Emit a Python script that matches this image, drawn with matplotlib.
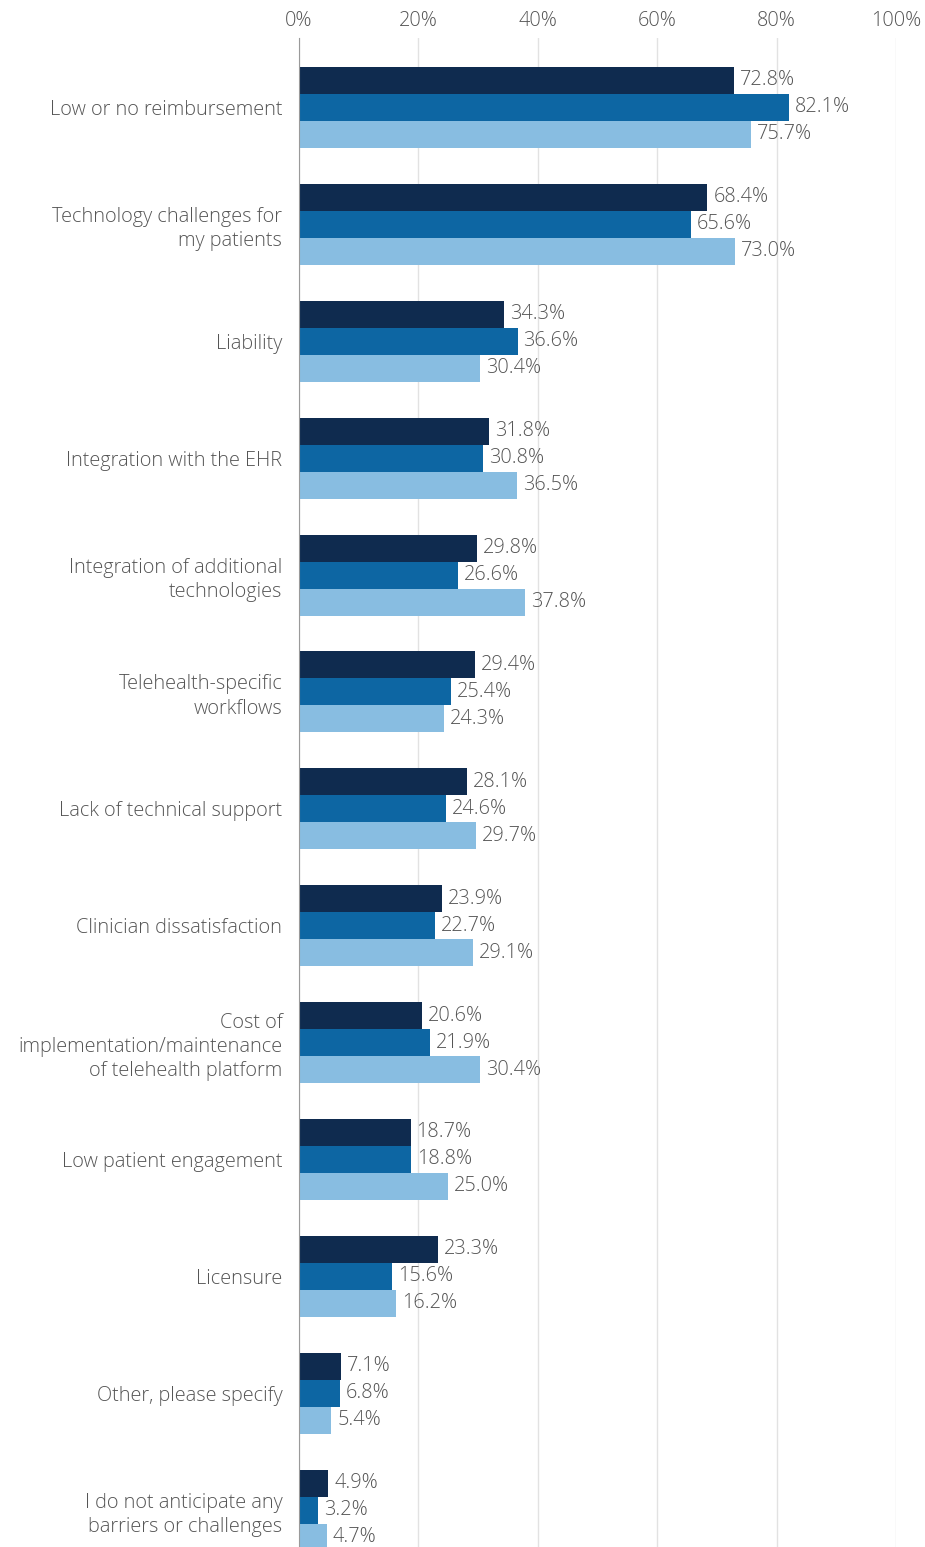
import numpy as np
import matplotlib.pyplot as plt

plt.rcParams['font.family'] = ['Open Sans', 'DejaVu Sans']

categories = [
    "Low or no reimbursement",
    "Technology challenges for\nmy patients",
    "Liability",
    "Integration with the EHR",
    "Integration of additional\ntechnologies",
    "Telehealth-specific\nworkflows",
    "Lack of technical support",
    "Clinician dissatisfaction",
    "Cost of\nimplementation/maintenance\nof telehealth platform",
    "Low patient engagement",
    "Licensure",
    "Other, please specify",
    "I do not anticipate any\nbarriers or challenges",
]
series_a = [72.8, 68.4, 34.3, 31.8, 29.8, 29.4, 28.1, 23.9, 20.6, 18.7, 23.3, 7.1, 4.9]
series_b = [82.1, 65.6, 36.6, 30.8, 26.6, 25.4, 24.6, 22.7, 21.9, 18.8, 15.6, 6.8, 3.2]
series_c = [75.7, 73.0, 30.4, 36.5, 37.8, 24.3, 29.7, 29.1, 30.4, 25.0, 16.2, 5.4, 4.7]
colors = ["#0f2b4f", "#0d66a3", "#88bde1"]
text_color = "#555555"
FS = 14.3
FW = "light"

fig = plt.figure(figsize=(9.25, 15.47), dpi=100)
ax = fig.add_axes([299 / 925, 0, (896 - 299) / 925, 1 - 38 / 1547])

y = np.arange(len(categories))
h = 0.231
for k, (vals, col) in enumerate(zip([series_a, series_b, series_c], colors)):
    pos = y + (k - 1) * h
    ax.barh(pos, vals, height=h, color=col, zorder=3)
    for p, v in zip(pos, vals):
        ax.text(v + 1.0, p, f"{v:.1f}%", va="center", ha="left",
                fontsize=FS, fontweight=FW, color=text_color, zorder=4)

ax.set_xlim(0, 100)
ax.set_ylim(12.315, -0.594)
ax.set_xticks(np.arange(0, 101, 20))
ax.set_xticklabels([f"{t}%" for t in range(0, 101, 20)], fontweight=FW)
ax.xaxis.tick_top()
ax.tick_params(axis="x", length=0, pad=5, labelsize=FS, labelcolor=text_color)
ax.set_yticks(y)
ax.set_yticklabels(categories, fontsize=FS, fontweight=FW, color=text_color,
                   linespacing=1.28)
ax.tick_params(axis="y", length=0, pad=12)
for lbl in ax.get_yticklabels():
    lbl.set_horizontalalignment("right")
    lbl.set_multialignment("right")

ax.grid(axis="x", color="#e2e2e2", linewidth=1, zorder=0)
for s in ["top", "right", "bottom"]:
    ax.spines[s].set_visible(False)
ax.spines["left"].set_color("#9a9a9a")
ax.spines["left"].set_zorder(5)

fig.savefig("out.png", dpi=100)
